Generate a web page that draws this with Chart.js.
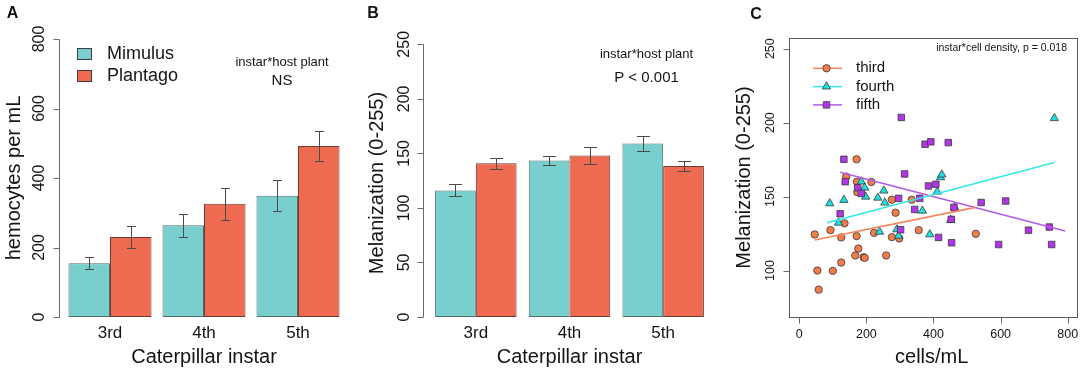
<!DOCTYPE html>
<html><head><meta charset="utf-8">
<script src="https://cdn.jsdelivr.net/npm/chart.js@4.4.1/dist/chart.umd.min.js"></script>
<style>
html,body{margin:0;padding:0;background:#fff;}
#wrap{position:relative;width:1084px;height:373px;overflow:hidden;background:#fff;}
canvas{position:absolute;left:0;top:0;}
</style></head><body>
<div id="wrap">
<canvas id="cA" width="1084" height="373"></canvas>
<canvas id="cB" width="1084" height="373"></canvas>
<canvas id="cC" width="1084" height="373"></canvas>
</div>
<script>
// ---------- DATA ----------
const instars = ['3rd', '4th', '5th'];
const hostPlants = ['Mimulus', 'Plantago'];

// Panel A: hemocytes per mL (mean, SE)
const hemoMimulus = [155, 264, 349];
const hemoMimulusSE = [18, 33, 45];
const hemoPlantago = [230, 326, 492];
const hemoPlantagoSE = [31, 46, 43];
const hemoTicks = [0, 200, 400, 600, 800];

// Panel B: melanization (mean, SE)
const melMimulus = [116, 143.5, 159];
const melMimulusSE = [5.5, 4, 7];
const melPlantago = [141, 148, 138.5];
const melPlantagoSE = [5, 7.5, 4.5];
const melTicks = [0, 50, 100, 150, 200, 250];

// Panel C: melanization vs cells/mL by instar
const instarNames = ['third', 'fourth', 'fifth'];
const thirdX = [46, 54, 58, 93, 100, 125, 125, 135, 140, 171, 172, 173, 171, 176, 167, 192, 195, 215, 223, 259, 276, 276, 287, 298, 335, 356, 526];
const thirdY = [124.4, 100, 87.1, 127.3, 99.8, 105.4, 122.4, 131.9, 163.5, 175.2, 160, 153, 123.3, 114.9, 110.2, 109, 108.6, 159.9, 125.5, 110.2, 147.9, 122.6, 139.1, 121.7, 147.9, 127.3, 124.8];
const fourthX = [91, 117, 133, 185, 195, 198, 234, 252, 255, 239, 291, 296, 367, 389, 411, 421, 425, 451, 463, 760];
const fourthY = [145.4, 132.3, 147.7, 160.1, 156, 149.9, 149.2, 154, 145.9, 126.2, 127.8, 123.5, 140.4, 124.4, 153.3, 163, 164.8, 134.1, 142.7, 203];
const fifthX = [133, 137, 122, 174, 185, 304, 314, 296, 302, 344, 359, 375, 392, 385, 407, 415, 444, 453, 454, 461, 542, 594, 615, 683, 745, 752];
const fifthY = [175.2, 160.1, 138.4, 156, 152.2, 203.5, 165.3, 148.8, 127.6, 141.3, 148.8, 185.4, 187, 157.2, 158.3, 122.4, 186.5, 134.6, 118.8, 142.7, 146, 117.6, 147, 127.3, 129.4, 117.6];
// fitted regression lines (endpoints)
const thirdFitX = [46, 525];
const thirdFitY = [120.6, 142.7];
const fourthFitX = [83, 760];
const fourthFitY = [132.3, 173];
const fifthFitX = [122, 792];
const fifthFitY = [166.4, 126.7];
const cTicksX = [0, 200, 400, 600, 800];
const cTicksY = [100, 150, 200, 250];

// ---------- STYLE ----------
const FONT = "'Liberation Sans', Arial, Helvetica, sans-serif";
const TEAL = '#79CECE', CORAL = '#EE6A50';
const ORANGE = '#F27D4A', ORANGE_L = '#F4865C';
const CYAN = '#1FDFE0', CYAN_L = '#33E8E8';
const PURPLE = '#B235E8', PURPLE_L = '#B35BE6';
const AXIS = '#6a6a6a', TXT = '#141414';
const W = 1084, H = 373;

function txt(ctx, s, x, y, size, o = {}) {
  ctx.save();
  ctx.font = (o.bold ? 'bold ' : '') + size + 'px ' + FONT;
  ctx.fillStyle = o.color || TXT;
  ctx.textAlign = o.align || 'center';
  ctx.textBaseline = 'middle';
  ctx.translate(x, y);
  if (o.rot) ctx.rotate(o.rot);
  ctx.fillText(s, 0, 0);
  ctx.restore();
}
const pts = (xs, ys) => xs.map((x, i) => ({ x: x, y: ys[i] }));

// ---------- BAR PANEL PLUGIN ----------
const barPanel = {
  id: 'barPanel',
  afterDatasetsDraw(chart, args, o) {
    const ctx = chart.ctx, ys = chart.scales.y;
    ctx.save();
    ctx.strokeStyle = '#4a4a4a'; ctx.lineWidth = 1;
    chart.data.datasets.forEach((ds, i) => {
      const meta = chart.getDatasetMeta(i);
      meta.data.forEach((el, j) => {
        const v = ds.data[j], e = ds.errors[j];
        const x = Math.round(el.x) + 0.5;
        const y1 = Math.round(ys.getPixelForValue(v + e)) + 0.5;
        const y2 = Math.round(ys.getPixelForValue(v - e)) + 0.5;
        ctx.beginPath();
        ctx.moveTo(x, y1); ctx.lineTo(x, y2);
        ctx.moveTo(x - o.cap, y1); ctx.lineTo(x + o.cap, y1);
        ctx.moveTo(x - o.cap, y2); ctx.lineTo(x + o.cap, y2);
        ctx.stroke();
      });
    });
    ctx.restore();
  },
  afterDraw(chart, args, o) {
    const ctx = chart.ctx, ys = chart.scales.y, xs = chart.scales.x, ca = chart.chartArea;
    const ax = Math.round(ca.left - o.axisGap) + 0.5;
    const t0 = ys.getPixelForValue(o.ticks[0]);
    const t1 = ys.getPixelForValue(o.ticks[o.ticks.length - 1]);
    ctx.save();
    ctx.strokeStyle = AXIS; ctx.lineWidth = 1;
    ctx.beginPath();
    ctx.moveTo(ax, Math.round(t0) + 0.5); ctx.lineTo(ax, Math.round(t1) + 0.5);
    o.ticks.forEach(t => {
      const y = Math.round(ys.getPixelForValue(t)) + 0.5;
      ctx.moveTo(ax, y); ctx.lineTo(ax - 6, y);
    });
    ctx.stroke();
    ctx.restore();
    o.ticks.forEach(t => txt(ctx, String(t), ax - o.labelOff, ys.getPixelForValue(t), 16, { rot: -Math.PI / 2 }));
    txt(ctx, o.yTitle, ax - o.titleOff, o.titleY, 20, { rot: -Math.PI / 2 });
    chart.data.labels.forEach((l, j) => txt(ctx, l, xs.getPixelForValue(j), 333, 17));
    txt(ctx, o.xTitle, (ca.left + ca.right) / 2, 357, 20);
    txt(ctx, o.letter, o.letterX, 14, 16, { bold: true });
    txt(ctx, 'instar*host plant', o.annX, o.annY1, 13);
    txt(ctx, o.ann2, o.annX, o.annY2, 15);
    if (o.legend) {
      chart.data.datasets.forEach((ds, i) => {
        const y = o.legend.y[i];
        ctx.save();
        ctx.fillStyle = ds.backgroundColor;
        ctx.fillRect(o.legend.x, y - 6, 15, 12);
        ctx.strokeStyle = '#3d3d3d'; ctx.lineWidth = 1;
        ctx.strokeRect(o.legend.x + 0.5, y - 5.5, 14, 11);
        ctx.restore();
        txt(ctx, ds.label, o.legend.x + 30, y, 18, { align: 'left' });
      });
    }
  }
};

function barChart(id, a, aSE, b, bSE, ymax, pad, catPct, po) {
  return new Chart(document.getElementById(id), {
    type: 'bar',
    data: {
      labels: instars,
      datasets: [
        { label: hostPlants[0], data: a, errors: aSE, backgroundColor: TEAL, borderColor: '#4f6e6e', borderWidth: 1, borderSkipped: false },
        { label: hostPlants[1], data: b, errors: bSE, backgroundColor: CORAL, borderColor: '#6f3b31', borderWidth: 1, borderSkipped: false }
      ]
    },
    options: {
      responsive: false, animation: false, events: [],
      layout: { padding: pad },
      datasets: { bar: { categoryPercentage: catPct, barPercentage: 1 } },
      scales: { x: { display: false }, y: { display: false, min: 0, max: ymax } },
      plugins: { legend: { display: false }, tooltip: { enabled: false }, barPanel: po }
    },
    plugins: [barPanel]
  });
}

barChart('cA', hemoMimulus, hemoMimulusSE, hemoPlantago, hemoPlantagoSE, 800,
  { left: 63, right: W - 345, top: 39, bottom: H - 317 }, 0.883,
  { cap: 4.5, axisGap: 4, ticks: hemoTicks, labelOff: 20, titleOff: 45.5, titleY: 178,
    yTitle: 'hemocytes per mL', xTitle: 'Caterpillar instar', letter: 'A', letterX: 12.5,
    annX: 282, annY1: 62, annY2: 81, ann2: 'NS', legend: { x: 77, y: [54, 76] } });

barChart('cB', melMimulus, melMimulusSE, melPlantago, melPlantagoSE, 250,
  { left: 429, right: W - 710, top: 44.3, bottom: H - 317 }, 0.87,
  { cap: 6.5, axisGap: 6, ticks: melTicks, labelOff: 19, titleOff: 46, titleY: 183,
    yTitle: 'Melanization (0-255)', xTitle: 'Caterpillar instar', letter: 'B', letterX: 373,
    annX: 646.5, annY1: 54.5, annY2: 77.5, ann2: 'P < 0.001', legend: null });

// ---------- SCATTER PANEL ----------
const markerStyles = [
  { pointStyle: 'circle', radius: 3.7, fill: ORANGE, line: ORANGE_L },
  { pointStyle: 'triangle', radius: 4.8, fill: CYAN, line: CYAN_L },
  { pointStyle: 'rect', radius: 4.6, fill: PURPLE, line: PURPLE_L }
];
const scatterPanel = {
  id: 'scatterPanel',
  afterDraw(chart) {
    const ctx = chart.ctx, ca = chart.chartArea, xs = chart.scales.x, ys = chart.scales.y;
    ctx.save();
    ctx.strokeStyle = '#5a5a5a'; ctx.lineWidth = 1;
    ctx.strokeRect(Math.round(ca.left) + 0.5, Math.round(ca.top) + 0.5, Math.round(ca.right - ca.left) - 1, Math.round(ca.bottom - ca.top));
    ctx.strokeStyle = AXIS;
    ctx.beginPath();
    cTicksX.forEach(t => {
      const x = Math.round(xs.getPixelForValue(t)) + 0.5;
      ctx.moveTo(x, Math.round(ca.bottom) + 0.5); ctx.lineTo(x, Math.round(ca.bottom) + 6.5);
    });
    cTicksY.forEach(t => {
      const y = Math.round(ys.getPixelForValue(t)) + 0.5;
      ctx.moveTo(Math.round(ca.left) + 0.5, y); ctx.lineTo(Math.round(ca.left) - 5.5, y);
    });
    ctx.stroke();
    ctx.restore();
    cTicksX.forEach(t => txt(ctx, String(t), xs.getPixelForValue(t), 335, 12.5));
    cTicksY.forEach(t => txt(ctx, String(t), ca.left - 18.5, ys.getPixelForValue(t), 12.5, { rot: -Math.PI / 2 }));
    txt(ctx, 'Melanization (0-255)', 744.5, (ca.top + ca.bottom) / 2, 20, { rot: -Math.PI / 2 });
    txt(ctx, 'cells/mL', (ca.left + ca.right) / 2 - 2, 357, 20);
    txt(ctx, 'C', 756, 15, 16, { bold: true });
    txt(ctx, 'instar*cell density, p = 0.018', 1067, 48.5, 10.5, { align: 'right' });
    // legend
    const ly = [68.3, 86.6, 104.9];
    instarNames.forEach((n, i) => {
      const m = markerStyles[i];
      ctx.save();
      ctx.strokeStyle = m.line; ctx.lineWidth = 1.5;
      ctx.beginPath(); ctx.moveTo(813, ly[i]); ctx.lineTo(842, ly[i]); ctx.stroke();
      ctx.fillStyle = m.fill; ctx.strokeStyle = '#3a3a3a'; ctx.lineWidth = 0.8;
      Chart.helpers.drawPoint(ctx, { pointStyle: m.pointStyle, radius: m.radius, rotation: 0, borderWidth: 0.8 }, 826.5, ly[i]);
      ctx.restore();
      txt(ctx, n, 856, ly[i], 15, { align: 'left' });
    });
  }
};

const scatterSeries = [[thirdX, thirdY], [fourthX, fourthY], [fifthX, fifthY]];
const fitSeries = [[thirdFitX, thirdFitY], [fourthFitX, fourthFitY], [fifthFitX, fifthFitY]];
const cDatasets = [];
scatterSeries.forEach((s, i) => {
  const m = markerStyles[i];
  cDatasets.push({ type: 'scatter', label: instarNames[i], data: pts(s[0], s[1]), order: 3 - i,
    pointStyle: m.pointStyle, pointRadius: m.radius, backgroundColor: m.fill, borderColor: '#3a3a3a', borderWidth: 0.8 });
});
fitSeries.forEach((s, i) => {
  cDatasets.push({ type: 'line', label: instarNames[i] + ' fit', data: pts(s[0], s[1]), order: 0,
    borderColor: markerStyles[i].line, borderWidth: 1.6, pointRadius: 0, fill: false, tension: 0 });
});

new Chart(document.getElementById('cC'), {
  type: 'scatter',
  data: { datasets: cDatasets },
  options: {
    responsive: false, animation: false, events: [],
    layout: { padding: { left: 789, right: W - 1080, top: 38, bottom: H - 317 } },
    scales: {
      x: { type: 'linear', display: false, min: -30.5, max: 831.7 },
      y: { type: 'linear', display: false, min: 68.6, max: 257.2 }
    },
    plugins: { legend: { display: false }, tooltip: { enabled: false } }
  },
  plugins: [scatterPanel]
});
</script>
</body></html>
